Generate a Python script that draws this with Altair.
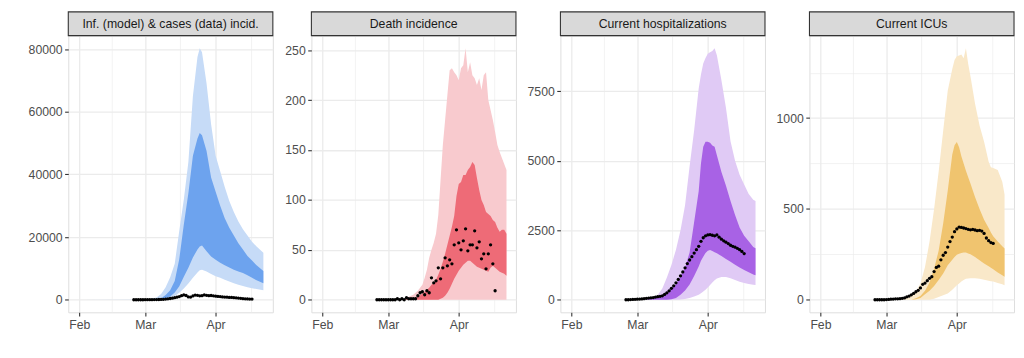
import altair as alt
import pandas as pd

BASE = pd.Timestamp("2020-02-01")
FONT = "Liberation Sans"
PANEL_W = 207
PANEL_H = 280
LABEL_SIZE = 12.4

# ---------------- Panel 1: infections (model) & cases (data) ----------------
inf_title = "Inf. (model) & cases (data) incid."
inf_days = [0, 30, 34, 36, 38, 40, 42, 44, 46, 48, 50, 52, 53, 54, 56, 58, 60, 62, 64, 66, 68, 70, 72, 74, 76, 78, 81]
inf_o_lo = [0, 0, 30, 100, 250, 600, 1200, 2200, 3600, 5200, 7000, 8700, 9400, 9600, 9000, 8200, 7500, 7000, 6400, 5800, 5300, 4800, 4400, 4000, 3700, 3400, 3000]
inf_o_hi = [0, 100, 700, 1800, 4000, 7200, 11500, 22000, 32000, 44000, 65000, 77500, 80300, 79000, 69000, 56000, 46000, 41000, 36000, 31500, 28000, 25000, 22500, 20500, 18500, 17000, 15000]
inf_i_lo = [0, 0, 50, 150, 400, 1000, 2300, 4300, 7300, 10200, 13500, 16000, 17000, 17300, 15500, 13800, 12800, 11800, 11000, 10300, 9600, 9000, 8500, 7800, 7000, 6200, 5300]
inf_i_hi = [0, 30, 200, 500, 1500, 3000, 6000, 13000, 24000, 34000, 46000, 51500, 53200, 52500, 47500, 39000, 34500, 30000, 26000, 23000, 20500, 18000, 16000, 14000, 12500, 11000, 9200]
cases = [0, 0, 0, 0, 0, 10, 10, 20, 30, 40, 60, 80, 100,
         150, 200, 300, 400, 500, 650, 800, 1000, 1300, 1550,
         1350, 900, 850, 1200, 1500, 1400, 1250, 1300, 1550, 1400,
         1300, 1350, 1250, 1150, 1050, 1000, 900, 850, 800, 750,
         720, 650, 600, 520, 450, 350, 300, 260, 230, 200]

# ---------------- Panel 2: deaths ----------------
dth_title = "Death incidence"
dth_days = [0, 34, 36, 38, 40, 42, 44, 45, 46, 47, 48, 49, 50, 51, 52, 53, 54, 55, 56, 57, 58, 59, 60, 61, 62,
            63, 64, 65, 66, 67, 68, 69, 70, 71, 72, 73, 74, 75, 76, 77, 78, 79, 80, 81]
dth_o_lo = [0, 0, 0, 0, 0, 0, 0, 0, 0, 0, 0, 0, 0, 0, 0, 0, 0, 0, 0, 0, 0, 0,
            0, 0, 0, 0, 0, 0, 0, 0, 0, 0, 0, 0, 0, 0, 0, 0, 0, 0, 0, 0, 0, 0]
dth_o_hi = [0, 0, 1, 3, 5, 9, 15, 22, 30, 42, 50, 57, 66, 85, 120, 155, 180, 205, 230, 232, 228, 225,
            220, 232, 235, 252, 228, 238, 225, 222, 215, 222, 210, 225, 228, 200, 190, 180, 168, 155, 148, 142, 136, 130]
dth_i_lo = [0, 0, 0, 0, 0, 0, 0, 0, 0, 0, 0, 0, 0, 0, 1, 2, 4, 7, 11, 16, 21, 25,
            29, 32, 35, 37, 39, 39, 37, 35, 33, 32, 31, 30, 29, 28, 32, 34, 32, 30, 28, 27, 26, 24]
dth_i_hi = [0, 0, 0, 1, 1, 3, 6, 8, 10, 12, 15, 17, 20, 25, 31, 38, 46, 55, 64, 73, 84, 104,
            116, 118, 125, 125, 130, 133, 138, 135, 122, 110, 100, 95, 88, 86, 84, 80, 78, 72, 68, 70, 70, 66]
deaths = [0, 0, 0, 0, 0, 0, 0, 0, 0, 1,
          0, 1, 0, 2, 1, 1, 1, 1,
          4, 7, 8, 5, 9, 7,
          22, 17, 19, 32, 21, 32,
          42, 34, 40, 36, 55, 70,
          57, 50, 59, 71, 49, 55,
          55, 69, 52, 58, 41, 46,
          31, 46, 55, 36, 9]

# ---------------- Panel 3: hospitalizations ----------------
hos_title = "Current hospitalizations"
hos_days = [0, 30, 34, 36, 38, 40, 42, 44, 46, 48, 50, 52, 54, 56, 57, 58, 59, 60, 61, 62, 63, 64, 66, 68, 70, 72, 74, 76, 78, 80, 81]
hos_o_lo = [0, 0, 0, 0, 0, 0, 0, 0, 0, 10, 30, 60, 120, 180, 230, 300, 360, 440, 530, 620, 700, 760, 820, 820, 770, 710, 650, 600, 570, 540, 530]
hos_o_hi = [0, 0, 30, 80, 180, 400, 800, 1250, 1800, 2500, 3400, 4800, 6100, 7600, 8100, 8500, 8700, 8850, 8900, 8950, 9050, 8800, 7900, 6900, 5700, 5000, 4500, 4150, 3800, 3600, 3550]
hos_i_lo = [0, 0, 0, 0, 0, 0, 0, 20, 60, 180, 330, 550, 850, 1200, 1400, 1550, 1680, 1760, 1790, 1750, 1710, 1670, 1570, 1470, 1370, 1260, 1160, 1070, 990, 910, 880]
hos_i_hi = [0, 0, 20, 50, 100, 180, 300, 450, 550, 850, 1150, 1700, 2800, 3900, 4900, 5500, 5680, 5680, 5650, 5550, 5500, 5200, 4600, 4100, 3550, 3050, 2600, 2300, 2100, 1900, 1850]
hosp = [0, 0, 5, 10, 15, 20, 25, 30, 40, 50,
        60, 70, 80, 95, 110, 125,
        140, 190, 250, 320, 410, 500,
        610, 730, 860, 1000, 1150, 1300,
        1430, 1550, 1680, 1800, 1920, 2100,
        2230, 2300, 2330, 2340, 2320, 2300,
        2330, 2250, 2180, 2120, 2070, 2020,
        1960, 1920, 1890, 1850, 1800, 1740, 1660]

# ---------------- Panel 4: ICUs ----------------
icu_title = "Current ICUs"
icu_days = [0, 30, 36, 38, 40, 42, 44, 46, 48, 50, 52, 54, 56, 58, 59, 60, 61, 62, 63, 64, 65, 66, 68, 70, 72, 74, 75, 76, 78, 80, 81]
icu_o_lo = [0, 0, 0, 0, 0, 0, 0, 0, 0, 5, 15, 25, 35, 55, 68, 80, 90, 100, 108, 115, 117, 118, 118, 115, 110, 105, 102, 100, 92, 85, 80]
icu_o_hi = [0, 0, 5, 10, 20, 45, 90, 180, 320, 500, 705, 930, 1150, 1270, 1320, 1340, 1345, 1350, 1330, 1385, 1300, 1230, 1080, 960, 870, 760, 730, 725, 715, 650, 580]
icu_i_lo = [0, 0, 0, 0, 0, 3, 10, 30, 50, 75, 108, 145, 190, 220, 235, 248, 253, 258, 260, 260, 255, 250, 235, 218, 200, 185, 176, 168, 150, 135, 126]
icu_i_hi = [0, 0, 0, 0, 0, 8, 20, 50, 95, 170, 270, 420, 600, 800, 850, 868, 840, 790, 750, 710, 675, 640, 565, 500, 440, 395, 370, 350, 320, 295, 282]
icu = [0, 0, 0, 0, 0, 1, 2, 3, 4, 5,
       5, 6, 8, 10, 16, 20,
       27, 35, 44, 52, 65, 85,
       92, 105, 118, 127, 155, 178,
       185, 220, 245, 260, 290, 320,
       345, 375, 390, 400, 398, 395,
       392, 388, 385, 387, 384, 380,
       382, 378, 365, 340, 325, 315, 310]

point_days = list(range(24, 77))

# colours (light = outer band, dark = inner band)
colors = {
    "inf": ("#C6DBF7", "#6DA3EE"),
    "dth": ("#F8CACE", "#EE6B77"),
    "hos": ("#E0CAF5", "#A862E5"),
    "icu": ("#F9E8C9", "#F0C46F"),
}


def to_dates(days):
    return [(BASE + pd.Timedelta(days=d)).strftime("%Y-%m-%dT%H:%M:%S") for d in days]


common_axis = dict(
    labelFont=FONT, labelFontSize=LABEL_SIZE, labelColor="#4D4D4D",
    tickColor="#333333", tickSize=3.7, tickWidth=1.1,
    domain=False, gridColor="#EBEBEB", labelPadding=2.5,
    labelOverlap=False, labelFlush=False,
)

x_major = [alt.DateTime(year=2020, month=m, date=1) for m in (2, 3, 4)]
x_minor = [alt.DateTime(year=2020, month=2, date=15, hours=12),
           alt.DateTime(year=2020, month=3, date=16, hours=12),
           alt.DateTime(year=2020, month=4, date=16, hours=12)]
x_scale = alt.Scale(domain=[alt.DateTime(year=2020, month=1, date=27, hours=4),
                            alt.DateTime(year=2020, month=4, date=26, hours=4)])
x_is_major = "hours(datum.value) == 0"
x_axis = alt.Axis(
    values=x_major + x_minor,
    labelExpr=f"{x_is_major} ? timeFormat(datum.value, '%b') : ''",
    tickOpacity={"condition": {"test": x_is_major, "value": 1}, "value": 0},
    gridWidth={"condition": {"test": x_is_major, "value": 1.3}, "value": 0.65},
    **common_axis,
)


def panel(title, days, o_lo, o_hi, i_lo, i_hi, pts, cols, minor_step, major_step, extent):
    rib = pd.DataFrame({"date": to_dates(days), "o_lo": o_lo, "o_hi": o_hi,
                        "i_lo": i_lo, "i_hi": i_hi})
    pdf = pd.DataFrame({"date": to_dates(point_days), "v": pts})
    ymax = max(o_hi)
    pad = 0.05 * ymax
    y_scale = alt.Scale(domain=[-pad, ymax + pad], nice=False, zero=False)
    yvals = []
    v = 0
    while v <= ymax + pad:
        yvals.append(v)
        v += minor_step
    is_major = f"datum.value % {major_step} == 0"
    y_axis = alt.Axis(
        values=yvals,
        format="d",
        labelExpr=f"{is_major} ? datum.label : ''",
        tickOpacity={"condition": {"test": is_major, "value": 1}, "value": 0},
        gridWidth={"condition": {"test": is_major, "value": 1.3}, "value": 0.65},
        minExtent=extent,
        maxExtent=extent,
        **common_axis,
    )
    light, dark = cols
    outer = alt.Chart(rib).mark_area(color=light, opacity=1).encode(
        x=alt.X("date:T", scale=x_scale, axis=x_axis, title=None),
        y=alt.Y("o_lo:Q", scale=y_scale, axis=y_axis, title=None),
        y2="o_hi:Q",
    )
    inner = alt.Chart(rib).mark_area(color=dark, opacity=1).encode(
        x=alt.X("date:T", title=None),
        y=alt.Y("i_lo:Q", title=None),
        y2="i_hi:Q",
    )
    dots = alt.Chart(pdf).mark_circle(color="black", size=11, opacity=1).encode(
        x=alt.X("date:T", title=None),
        y=alt.Y("v:Q", title=None),
    )
    strip_data = alt.Data(values=[{"t": title}])
    strip = alt.Chart(strip_data).mark_rect(fill="#D9D9D9", stroke="#333333", strokeWidth=1.1).encode(
        x=alt.value(0), x2=alt.value(PANEL_W), y=alt.value(-24), y2=alt.value(0)
    )
    strip_txt = alt.Chart(strip_data).mark_text(
        font=FONT, fontSize=12.4, color="#1A1A1A", align="center", baseline="middle"
    ).encode(x=alt.value(PANEL_W / 2), y=alt.value(-11.5), text="t:N")
    return alt.layer(outer, inner, dots, strip, strip_txt).properties(width=PANEL_W, height=PANEL_H)


p1 = panel(inf_title, inf_days, inf_o_lo, inf_o_hi, inf_i_lo, inf_i_hi, cases, colors["inf"], 10000, 20000, 42)
p2 = panel(dth_title, dth_days, dth_o_lo, dth_o_hi, dth_i_lo, dth_i_hi, deaths, colors["dth"], 25, 50, 28)
p3 = panel(hos_title, hos_days, hos_o_lo, hos_o_hi, hos_i_lo, hos_i_hi, hosp, colors["hos"], 1250, 2500, 34)
p4 = panel(icu_title, icu_days, icu_o_lo, icu_o_hi, icu_i_lo, icu_i_hi, icu, colors["icu"], 250, 500, 34)

chart = alt.hconcat(p1, p2, p3, p4, spacing=8).properties(
    padding={"left": 18, "top": 0, "right": 0, "bottom": 0}
).configure_view(
    stroke="#333333", strokeWidth=1.2
).configure(background="white")

chart.save("out.html", embed_options={"renderer": "svg", "actions": False})
